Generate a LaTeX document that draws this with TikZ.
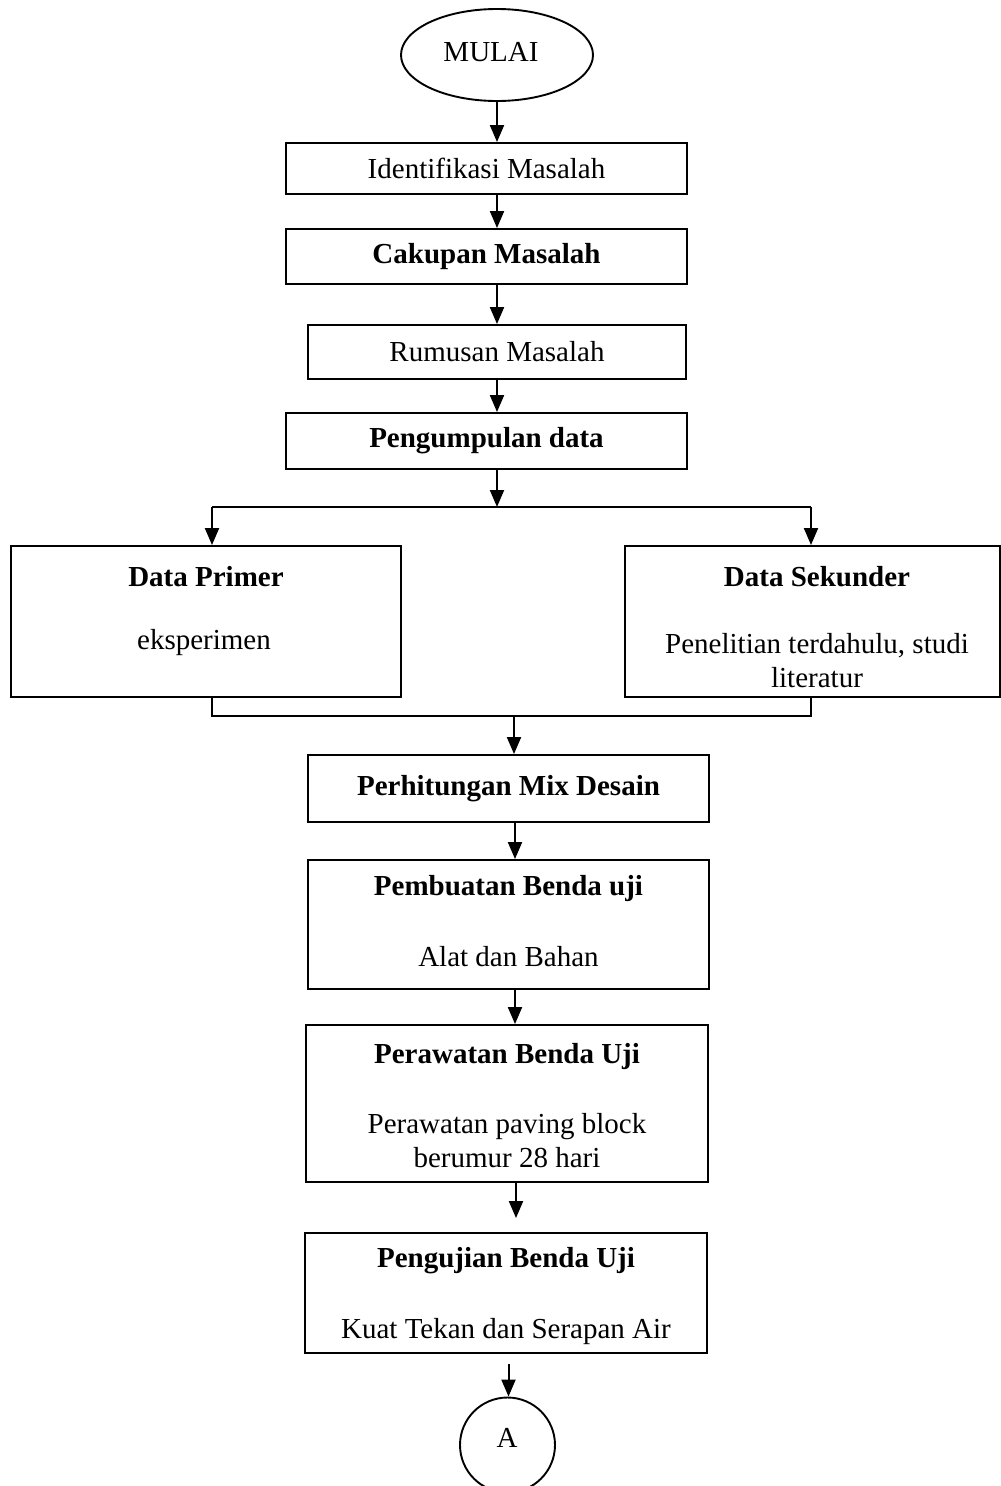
\documentclass[tikz,border=0pt]{standalone}
\usepackage{fontspec}
\setmainfont{Liberation Serif}
\usetikzlibrary{arrows.meta,shapes.geometric}
\tikzset{
  kotak/.style={draw, line width=1.9pt, inner sep=0pt},
  panah/.style={line width=2pt, -{Triangle[length=17pt,width=14pt]}},
  garis/.style={line width=2pt},
  teks/.style={inner sep=0pt, align=center},
}

\begin{document}
\begin{tikzpicture}[x=1pt,y=1pt,yscale=-1,xscale=1,every node/.append style={font=\fontsize{29pt}{34pt}\selectfont}]
\useasboundingbox (0,0) rectangle (1001,1486);
\node [kotak, ellipse, minimum width=192pt, minimum height=92pt] (mulai) at (497,55) {};
\node [teks] (mulai-teks) at (491,52) {MULAI};
\node [kotak, minimum width=401pt, minimum height=51pt] (identifikasi) at (486.5,168.5) {Identifikasi Masalah};
\node [kotak, minimum width=401pt, minimum height=55pt] (cakupan) at (486.5,256.5) {\textbf{Cakupan Masalah}};
\node [kotak, minimum width=378pt, minimum height=54pt] (rumusan) at (497,352) {Rumusan Masalah};
\node [kotak, minimum width=401pt, minimum height=56pt] (kumpul) at (486.5,441) {\textbf{Pengumpulan data}};

\node [kotak, minimum width=389.5pt, minimum height=151pt] (primer) at (206,621.5) {};
\node [teks] (primer-judul) at (206,577) {\textbf{Data Primer}};
\node [teks] (primer-isi) at (204,643) {eksperimen};
\node [kotak, minimum width=375pt, minimum height=151pt] (sekunder) at (812.5,621.5) {};
\node [teks] (sekunder-judul) at (817,577) {\textbf{Data Sekunder}};
\node [teks] (sekunder-isi) at (817,660.5) {Penelitian terdahulu, studi\\literatur};

\node [kotak, minimum width=401pt, minimum height=67pt] (mix) at (508.5,788.5) {\textbf{Perhitungan Mix Desain}};
\node [kotak, minimum width=401pt, minimum height=129pt] (buat) at (508.5,924.5) {};
\node [teks] (buat-judul) at (508.5,889) {\textbf{Pembuatan Benda uji}};
\node [teks] (buat-isi) at (508.5,957) {Alat dan Bahan};
\node [kotak, minimum width=402pt, minimum height=157pt] (rawat) at (507,1103.5) {};
\node [teks] (rawat-judul) at (507,1057) {\textbf{Perawatan Benda Uji}};
\node [teks] (rawat-isi) at (507,1141) {Perawatan paving block\\berumur 28 hari};
\node [kotak, minimum width=402pt, minimum height=120pt] (uji) at (506,1293) {};
\node [teks] (uji-judul) at (506,1261) {\textbf{Pengujian Benda Uji}};
\node [teks] (uji-isi) at (506,1332) {Kuat Tekan dan Serapan Air};
\node [kotak, circle, minimum size=95pt] (lingkarA) at (507.5,1445) {};
\node [teks] (lingkarA-teks) at (507,1438) {A};

\coordinate (cabang) at (497,507);
\coordinate (cabang-kiri) at (212,507);
\coordinate (cabang-kanan) at (811,507);
\coordinate (gabung) at (514,716);
\coordinate (gabung-kiri) at (212,716);
\coordinate (gabung-kanan) at (811,716);
\coordinate (poros) at (515,0);

\draw [panah] (mulai.south) -- (mulai.south |- identifikasi.north);
\draw [panah] (mulai.south |- identifikasi.south) -- (mulai.south |- cakupan.north);
\draw [panah] (mulai.south |- cakupan.south) -- (mulai.south |- rumusan.north);
\draw [panah] (mulai.south |- rumusan.south) -- (mulai.south |- kumpul.north);
\draw [panah] (mulai.south |- kumpul.south) -- (cabang);
\draw [garis] (cabang-kiri) -- (cabang-kanan);
\draw [panah] (cabang-kiri) -- (cabang-kiri |- primer.north);
\draw [panah] (cabang-kanan) -- (cabang-kanan |- sekunder.north);
\draw [garis] (cabang-kiri |- primer.south) -- (gabung-kiri) -- (gabung-kanan) -- (cabang-kanan |- sekunder.south);
\draw [panah] (gabung) -- (gabung |- mix.north);
\draw [panah] (poros |- mix.south) -- (poros |- buat.north);
\draw [panah] (poros |- buat.south) -- (poros |- rawat.north);
\draw [panah, shorten >=14pt] ([xshift=1pt]poros |- rawat.south) -- ([xshift=1pt]poros |- uji.north);
\draw [panah, shorten <=10pt] ([xshift=1pt]lingkarA |- uji.south) -- ([xshift=1pt]lingkarA.north);
\end{tikzpicture}
\end{document}
